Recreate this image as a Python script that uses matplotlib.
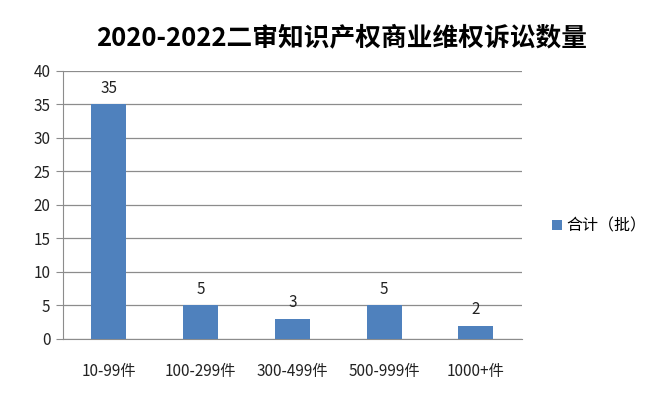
import matplotlib.pyplot as plt

plt.rcParams['font.family'] = ['Noto Sans CJK SC', 'DejaVu Sans']

# 数据
categories = ['10-99件', '100-299件', '300-499件', '500-999件', '1000+件']
counts = [35, 5, 3, 5, 2]
series_name = '合计（批）'

fig = plt.figure(figsize=(6.63, 3.96), dpi=100)
ax = fig.add_axes([0.095, 0.144, 0.692, 0.677])

x = range(len(categories))
bars = ax.bar(x, counts, width=0.38, color='#4F81BD', label=series_name, zorder=3)

for b, v in zip(bars, counts):
    ax.text(b.get_x() + b.get_width() / 2, v + 1.1, str(v),
            ha='center', va='bottom', fontsize=11, color='#222222')

ax.set_xlim(-0.5, len(categories) - 0.5)
ax.set_ylim(0, 40)
ax.set_yticks(range(0, 41, 5))
ax.set_xticks(list(x))
ax.set_xticklabels(categories)
ax.yaxis.grid(True, color='#8c8c8c', linewidth=0.9, zorder=0)

for s in ['top', 'right']:
    ax.spines[s].set_visible(False)
ax.spines['left'].set_color('#8c8c8c')
ax.spines['bottom'].set_color('#8c8c8c')
ax.tick_params(axis='y', length=5, color='#8c8c8c', labelsize=11, labelcolor='#222222', pad=4)
ax.tick_params(axis='x', length=0, labelsize=11, labelcolor='#222222', pad=17)

fig.suptitle('2020-2022二审知识产权商业维权诉讼数量', x=0.515, y=0.94,
             fontsize=18.5, fontweight='bold')

ax.legend(loc='center left', bbox_to_anchor=(1.035, 0.42), frameon=False,
          fontsize=11.5, handlelength=0.6, handleheight=0.6, handletextpad=0.3)

fig.savefig('out.png', dpi=100)
